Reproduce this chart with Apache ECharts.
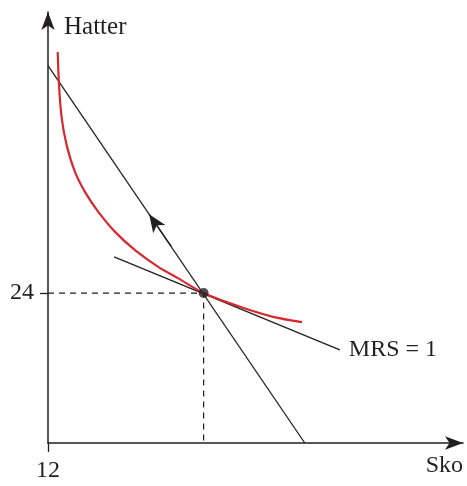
<!DOCTYPE html>
<html>
<head>
<meta charset="utf-8">
<script src="https://cdn.jsdelivr.net/npm/echarts@6/dist/echarts.min.js"></script>
<style>html,body{margin:0;padding:0;background:#fff}#c{width:467px;height:486px}</style>
</head>
<body>
<div id="c"></div>
<script>
// Data (units: x = Sko, y = Hatter)
const xTickValues = [12];
const yTickValues = [24];
const indifferenceCurve = [
  [12.75, 43.3], [12.85, 40.64], [13.06, 37.98], [13.44, 35.84], [14.08, 33.7],
  [14.85, 32.1], [15.88, 30.5], [17.17, 28.9], [18.71, 27.44], [20.5, 26.1],
  [22.05, 25.18], [24, 24], [26.8, 22.9], [29.35, 22.1], [31.59, 21.68]
];
const budgetLine = [[12, 42.2], [31.8, 12]];
const budgetArrow = [[21.5, 27.73], [19.8, 30.32]];
const mrsLine = [[17.1, 26.9], [34.5, 19.45]];
const optimum = [[24, 24]];
const guideLines = [[12, 24], [24, 24], [24, 12]];
const axisNames = { x: 'Sko', y: 'Hatter' };
const mrsLabel = 'MRS = 1';

const ink = '#231f20';
const red = '#d7282f';
const font = 'Liberation Serif';

const chart = echarts.init(document.getElementById('c'), null, { renderer: 'canvas' });
chart.setOption({
  animation: false,
  backgroundColor: '#fff',
  grid: { left: 48, right: 4, top: 12, bottom: 43, containLabel: false },
  xAxis: {
    type: 'value', min: 12, max: 44,
    name: axisNames.x, nameLocation: 'end', nameGap: 0,
    nameTextStyle: { fontFamily: font, fontSize: 24, color: ink, align: 'right', verticalAlign: 'top', padding: [11, 0, 0, 0] },
    axisLine: { show: true, onZero: false, symbol: ['none', 'arrow'], symbolSize: [10, 18], lineStyle: { color: ink, width: 1.5 } },
    axisTick: { show: true, customValues: xTickValues, length: 9, lineStyle: { color: ink, width: 1.3 } },
    axisLabel: { show: true, customValues: xTickValues, margin: 16, fontFamily: font, fontSize: 24, color: ink },
    splitLine: { show: false }
  },
  yAxis: {
    type: 'value', min: 12, max: 46.5,
    name: axisNames.y, nameLocation: 'end', nameGap: -15,
    nameTextStyle: { fontFamily: font, fontSize: 25, color: ink, align: 'left', verticalAlign: 'middle', padding: [0, 0, 0, 16] },
    axisLine: { show: true, onZero: false, symbol: ['none', 'arrow'], symbolSize: [10, 18], lineStyle: { color: ink, width: 1.5 } },
    axisTick: { show: true, customValues: yTickValues, length: 8, lineStyle: { color: ink, width: 1.3 } },
    axisLabel: { show: true, customValues: yTickValues, margin: 14, fontFamily: font, fontSize: 24, color: ink },
    splitLine: { show: false }
  },
  series: [
    {
      type: 'line', data: guideLines, symbol: 'none', silent: true,
      lineStyle: { color: ink, width: 1.2, type: [6, 5] }
    },
    {
      type: 'line', data: budgetLine, symbol: 'none', silent: true,
      lineStyle: { color: ink, width: 1.3 },
      markLine: {
        silent: true, symbol: ['none', 'arrow'], symbolSize: [11, 18],
        label: { show: false },
        lineStyle: { color: ink, width: 1.3, type: 'solid' },
        data: [[{ coord: budgetArrow[0] }, { coord: budgetArrow[1] }]]
      }
    },
    {
      type: 'line', data: mrsLine, symbol: 'none', silent: true,
      lineStyle: { color: ink, width: 1.3 },
      endLabel: { show: true, formatter: mrsLabel, distance: 9, fontFamily: font, fontSize: 24, color: ink }
    },
    {
      type: 'line', data: indifferenceCurve, symbol: 'none', smooth: 0.3, silent: true,
      lineStyle: { color: red, width: 2.2 }, z: 3
    },
    {
      type: 'scatter', data: optimum, symbol: 'circle', symbolSize: 10, silent: true,
      itemStyle: { color: ink }, z: 5
    }
  ]
});
</script>
</body>
</html>
